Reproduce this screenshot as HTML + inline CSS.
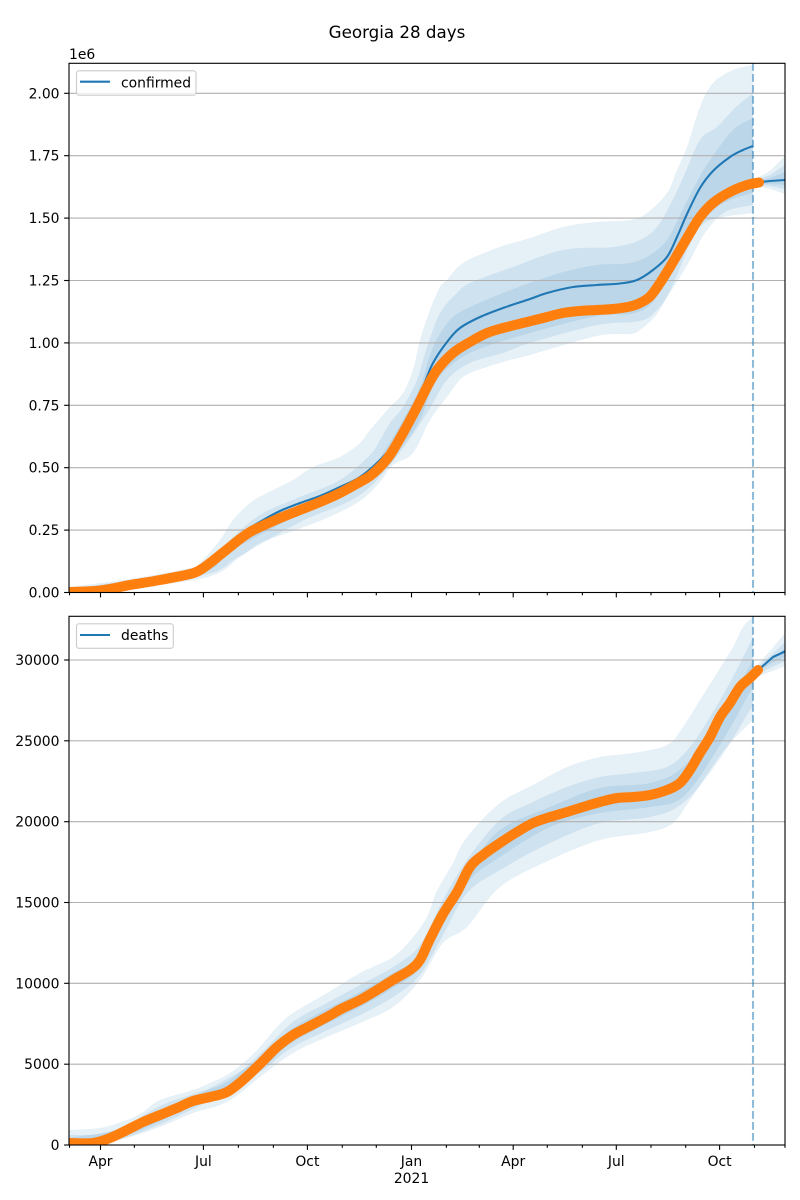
<!DOCTYPE html>
<html>
<head>
<meta charset="utf-8">
<style>
  html, body { margin: 0; padding: 0; background: #ffffff; }
  svg { display: block; }
  text { font-family: "DejaVu Sans", "Liberation Sans", sans-serif; fill: #000; }
</style>
</head>
<body>
<svg id="fig" width="800" height="1200" viewBox="0 0 800 1200" xmlns="http://www.w3.org/2000/svg">
  <defs>
    <clipPath id="c1"><rect x="69" y="63.3" width="716" height="529.2"/></clipPath>
    <clipPath id="c2"><rect x="69" y="616.3" width="716" height="528.7"/></clipPath>
  </defs>
  <rect width="800" height="1200" fill="#fff"/>

  <text x="397" y="38" font-size="16.7" text-anchor="middle">Georgia 28 days</text>

  <!-- ================= TOP AXES ================= -->
  <g clip-path="url(#c1)">
    <g fill="#1f77b4" fill-opacity="0.11" stroke="none">
      <polygon class="sm" points="69,587 130,579 190,568 200,563 220,540 233,520 250,503 267,493 293,480 313,467 340,457 360,443 370,430 390,407 403,393 413,370 420,340 430,310 440,287 447,280 463,263 497,248 530,238 563,227 597,222 630,220 647,213 667,193 677,170 687,147 700,107 713,83 733,70 753,65 753,213 723,217 703,224 690,244 680,268 670,291 657,314 640,330 630,334 597,336 530,355 510,360 487,367 463,377 447,397 430,420 413,453 393,465 380,482 360,501 327,518 293,531 260,543 240,557 200,579 69,593"/>
      <polygon class="sm" points="69,589 190,571 210,560 230,540 260,515 300,497 340,480 370,455 380,440 390,423 403,407 417,380 427,347 440,313 457,293 470,283 513,267 563,250 613,247 640,240 657,227 670,205 683,178 700,140 717,127 735,108 753,93 753,205 725,212 705,233 690,260 675,285 657,310 640,321 597,325 530,343 503,353 470,363 447,380 427,413 400,452 360,495 300,522 240,556 200,576 69,593"/>
      <polygon class="sm" points="69,590 200,568 230,544 260,522 300,505 340,490 370,472 385,450 403,420 420,387 433,347 450,320 470,307 503,293 530,283 563,272 597,265 630,263 650,255 667,240 680,215 690,195 700,176 710,160 733,130 753,118 753,193 730,200 710,213 690,241 670,276 650,305 630,314 597,316 530,333 470,353 437,380 420,420 403,445 380,472 300,514 230,551 200,573 69,593"/>
      <polygon points="755,179 770,171 785,156 785,194 770,189 755,186"/>
      <polygon points="755,180 770,175 785,165 785,189 770,186 755,185"/>
      <polygon points="755,181 770,178 785,172 785,185 770,184 755,184"/>
    </g>
    <g stroke="#b0b0b0" stroke-width="1.1">
      <line x1="69" x2="785" y1="592.5" y2="592.5"/>
      <line x1="69" x2="785" y1="530.1" y2="530.1"/>
      <line x1="69" x2="785" y1="467.7" y2="467.7"/>
      <line x1="69" x2="785" y1="405.3" y2="405.3"/>
      <line x1="69" x2="785" y1="342.9" y2="342.9"/>
      <line x1="69" x2="785" y1="280.5" y2="280.5"/>
      <line x1="69" x2="785" y1="218.1" y2="218.1"/>
      <line x1="69" x2="785" y1="155.7" y2="155.7"/>
      <line x1="69" x2="785" y1="93.3" y2="93.3"/>
    </g>
    <polyline class="sm" fill="none" stroke="#1f77b4" stroke-width="2.08" stroke-linejoin="round"
      points="69,592 200,569 220,553 240,537 250,528 265,519 280,511 300,503 320,496 340,487 360,477 380,460 397,440 413,410 423,387 433,363 447,342 460,328 480,317 503,308 530,299 547,293 573,287 597,285 620,283.5 637,280 653,270 667,257 677,237 687,214 700,188 713,171 730,157 743,150 753,146"/>
    <polyline fill="none" stroke="#1f77b4" stroke-width="2.08" points="758,182.3 770,181 785,180"/>
    <line x1="753" x2="753" y1="63" y2="593" stroke="#1f77b4" stroke-opacity="0.5" stroke-width="2.08" stroke-dasharray="7.7,3.3"/>
    <polyline class="sm" fill="none" stroke="#ff7f0e" stroke-width="10" stroke-linejoin="round" stroke-linecap="round"
      points="69,592 95,591 110,589 130,585 160,580 190,574 200,570 210,563 220,555 230,547 240,539 250,532 260,527 280,518 300,510 320,502 340,493 360,482 370,476 380,467 390,455 403,433 417,407 427,387 437,370 453,353 470,342 487,333 503,328 527,322 547,317 563,313 580,311 597,310 613,309 630,306.5 640,303 650,296.5 660,283 670,267 680,250 690,233 700,217 713,203 730,192 747,185 759,182.5"/>
  </g>
  <rect x="69" y="63.3" width="716" height="529.2" fill="none" stroke="#000" stroke-width="1.1"/>
  <g stroke="#000" stroke-width="1.1">
    <line x1="64.1" x2="69" y1="592.5" y2="592.5"/>
    <line x1="64.1" x2="69" y1="530.1" y2="530.1"/>
    <line x1="64.1" x2="69" y1="467.7" y2="467.7"/>
    <line x1="64.1" x2="69" y1="405.3" y2="405.3"/>
    <line x1="64.1" x2="69" y1="342.9" y2="342.9"/>
    <line x1="64.1" x2="69" y1="280.5" y2="280.5"/>
    <line x1="64.1" x2="69" y1="218.1" y2="218.1"/>
    <line x1="64.1" x2="69" y1="155.7" y2="155.7"/>
    <line x1="64.1" x2="69" y1="93.3" y2="93.3"/>
  </g>
  <g font-size="13.9" text-anchor="end">
    <text x="59.5" y="597.5">0.00</text>
    <text x="59.5" y="535.1">0.25</text>
    <text x="59.5" y="472.7">0.50</text>
    <text x="59.5" y="410.3">0.75</text>
    <text x="59.5" y="347.9">1.00</text>
    <text x="59.5" y="285.5">1.25</text>
    <text x="59.5" y="223.1">1.50</text>
    <text x="59.5" y="160.7">1.75</text>
    <text x="59.5" y="98.3">2.00</text>
  </g>
  <text x="69" y="59" font-size="13.9">1e6</text>
  <g stroke="#000" stroke-width="1.1">
    <line x1="100.5" x2="100.5" y1="592.5" y2="597.4"/>
    <line x1="203.4" x2="203.4" y1="592.5" y2="597.4"/>
    <line x1="307.4" x2="307.4" y1="592.5" y2="597.4"/>
    <line x1="411.5" x2="411.5" y1="592.5" y2="597.4"/>
    <line x1="513.2" x2="513.2" y1="592.5" y2="597.4"/>
    <line x1="616.3" x2="616.3" y1="592.5" y2="597.4"/>
    <line x1="719.6" x2="719.6" y1="592.5" y2="597.4"/>
    <line x1="69.5" x2="69.5" y1="592.5" y2="595.3"/>
    <line x1="134.4" x2="134.4" y1="592.5" y2="595.3"/>
    <line x1="169.4" x2="169.4" y1="592.5" y2="595.3"/>
    <line x1="238.4" x2="238.4" y1="592.5" y2="595.3"/>
    <line x1="273.4" x2="273.4" y1="592.5" y2="595.3"/>
    <line x1="342.3" x2="342.3" y1="592.5" y2="595.3"/>
    <line x1="376.3" x2="376.3" y1="592.5" y2="595.3"/>
    <line x1="446.4" x2="446.4" y1="592.5" y2="595.3"/>
    <line x1="479.3" x2="479.3" y1="592.5" y2="595.3"/>
    <line x1="547.3" x2="547.3" y1="592.5" y2="595.3"/>
    <line x1="582.4" x2="582.4" y1="592.5" y2="595.3"/>
    <line x1="651.0" x2="651.0" y1="592.5" y2="595.3"/>
    <line x1="685.7" x2="685.7" y1="592.5" y2="595.3"/>
    <line x1="754.5" x2="754.5" y1="592.5" y2="595.3"/>
    <line x1="785" x2="785" y1="592.5" y2="595.3"/>
  </g>
  <rect x="76.5" y="70.8" width="119.5" height="24.4" rx="2.5" ry="2.5" fill="#fff" fill-opacity="0.8" stroke="#cccccc" stroke-width="1.1"/>
  <line x1="80" x2="110" y1="81.7" y2="81.7" stroke="#1f77b4" stroke-width="2.08"/>
  <text x="121" y="87.3" font-size="13.9">confirmed</text>

  <!-- ================= BOTTOM AXES ================= -->
  <g clip-path="url(#c2)">
    <g fill="#1f77b4" fill-opacity="0.11" stroke="none">
      <polygon class="sm" points="69,1130 100,1128 127,1120 143,1112 160,1100 193,1090 210,1083 227,1075 243,1063 260,1047 277,1027 293,1013 327,993 360,973 393,957 413,937 427,917 435,895 443,880 453,863 467,837 500,803 533,785 567,767 600,757 633,753 667,745 683,727 700,700 717,673 733,647 743,627 753,617 753,720 733,740 717,760 690,800 673,823 650,832 600,840 550,860 500,887 467,927 443,943 420,980 393,1007 360,1023 327,1037 293,1053 260,1077 227,1102 193,1113 160,1127 127,1138 93,1146 69,1146"/>
      <polygon class="sm" points="69,1135 100,1134 127,1125 160,1106 193,1094 227,1082 260,1054 293,1022 327,1003 360,985 393,967 420,945 443,900 467,860 500,820 533,802 567,787 600,777 633,773 667,767 690,747 710,717 733,677 753,637 753,705 717,763 683,803 650,817 600,823 550,843 500,870 467,893 443,935 420,975 393,997 360,1015 293,1047 260,1072 193,1109 127,1137 69,1146"/>
      <polygon class="sm" points="69,1138 127,1127 193,1097 260,1059 293,1028 360,992 393,973 420,955 443,910 470,867 500,830 550,807 600,788 650,783 683,767 717,723 753,660 753,687 717,750 683,797 650,807 600,813 550,827 500,857 470,880 443,925 420,968 393,988 360,1007 293,1042 260,1069 193,1105 127,1135 69,1146"/>
      <polygon points="756,666 770,651 785,633 785,666 770,672 756,677"/>
      <polygon points="756,668 770,656 785,642 785,661 770,668 756,675"/>
      <polygon points="756,669 770,660 785,648 785,657 770,664 756,673"/>
    </g>
    <g stroke="#b0b0b0" stroke-width="1.1">
      <line x1="69" x2="785" y1="1145" y2="1145"/>
      <line x1="69" x2="785" y1="1064.2" y2="1064.2"/>
      <line x1="69" x2="785" y1="983.3" y2="983.3"/>
      <line x1="69" x2="785" y1="902.5" y2="902.5"/>
      <line x1="69" x2="785" y1="821.7" y2="821.7"/>
      <line x1="69" x2="785" y1="740.8" y2="740.8"/>
      <line x1="69" x2="785" y1="660" y2="660"/>
    </g>
    <polyline class="sm" fill="none" stroke="#1f77b4" stroke-width="2.08" stroke-linejoin="round"
      points="69,1143 93,1143 110,1138 127,1130 143,1122 160,1115 177,1108 193,1101 210,1097 227,1092 243,1080 260,1064 277,1047 293,1035 310,1026 327,1017 343,1008 360,1000 377,990 393,980 410,968 420,956 430,937 443,912 457,890 470,866 483,854 500,842 517,831 533,822 550,816 567,811 583,806 600,801 617,797 633,796 650,794 667,789 680,782 690,769 700,752 710,736 720,716 730,702 740,686 750,677 758,670"/>
    <polyline fill="none" stroke="#1f77b4" stroke-width="2.08" stroke-linejoin="round" points="758,670 762,666.7 773,657 785,651.5"/>
    <line x1="753" x2="753" y1="616" y2="1145" stroke="#1f77b4" stroke-opacity="0.5" stroke-width="2.08" stroke-dasharray="7.7,3.3"/>
    <polyline class="sm" fill="none" stroke="#ff7f0e" stroke-width="10" stroke-linejoin="round" stroke-linecap="round"
      points="69,1143 93,1143 110,1138 127,1130 143,1122 160,1115 177,1108 193,1101 210,1097 227,1092 243,1080 260,1064 277,1047 293,1035 310,1026 327,1017 343,1008 360,1000 377,990 393,980 410,970 420,960 430,939 443,914 457,892 470,867 483,855 500,843 517,832 533,823 550,817 567,812 583,807 600,802 617,798 633,797 650,795 667,790 680,783 690,770 700,753 710,737 720,717 730,703 740,687 750,678 758,670"/>
  </g>
  <rect x="69" y="616.3" width="716" height="528.7" fill="none" stroke="#000" stroke-width="1.1"/>
  <g stroke="#000" stroke-width="1.1">
    <line x1="64.1" x2="69" y1="1145" y2="1145"/>
    <line x1="64.1" x2="69" y1="1064.2" y2="1064.2"/>
    <line x1="64.1" x2="69" y1="983.3" y2="983.3"/>
    <line x1="64.1" x2="69" y1="902.5" y2="902.5"/>
    <line x1="64.1" x2="69" y1="821.7" y2="821.7"/>
    <line x1="64.1" x2="69" y1="740.8" y2="740.8"/>
    <line x1="64.1" x2="69" y1="660" y2="660"/>
  </g>
  <g font-size="13.9" text-anchor="end">
    <text x="59.5" y="1150">0</text>
    <text x="59.5" y="1069.2">5000</text>
    <text x="59.5" y="988.3">10000</text>
    <text x="59.5" y="907.5">15000</text>
    <text x="59.5" y="826.7">20000</text>
    <text x="59.5" y="745.8">25000</text>
    <text x="59.5" y="665">30000</text>
  </g>
  <g stroke="#000" stroke-width="1.1">
    <line x1="100.5" x2="100.5" y1="1145" y2="1149.9"/>
    <line x1="203.4" x2="203.4" y1="1145" y2="1149.9"/>
    <line x1="307.4" x2="307.4" y1="1145" y2="1149.9"/>
    <line x1="411.5" x2="411.5" y1="1145" y2="1149.9"/>
    <line x1="513.2" x2="513.2" y1="1145" y2="1149.9"/>
    <line x1="616.3" x2="616.3" y1="1145" y2="1149.9"/>
    <line x1="719.6" x2="719.6" y1="1145" y2="1149.9"/>
    <line x1="69.5" x2="69.5" y1="1145" y2="1147.8"/>
    <line x1="134.4" x2="134.4" y1="1145" y2="1147.8"/>
    <line x1="169.4" x2="169.4" y1="1145" y2="1147.8"/>
    <line x1="238.4" x2="238.4" y1="1145" y2="1147.8"/>
    <line x1="273.4" x2="273.4" y1="1145" y2="1147.8"/>
    <line x1="342.3" x2="342.3" y1="1145" y2="1147.8"/>
    <line x1="376.3" x2="376.3" y1="1145" y2="1147.8"/>
    <line x1="446.4" x2="446.4" y1="1145" y2="1147.8"/>
    <line x1="479.3" x2="479.3" y1="1145" y2="1147.8"/>
    <line x1="547.3" x2="547.3" y1="1145" y2="1147.8"/>
    <line x1="582.4" x2="582.4" y1="1145" y2="1147.8"/>
    <line x1="651.0" x2="651.0" y1="1145" y2="1147.8"/>
    <line x1="685.7" x2="685.7" y1="1145" y2="1147.8"/>
    <line x1="754.5" x2="754.5" y1="1145" y2="1147.8"/>
    <line x1="785" x2="785" y1="1145" y2="1147.8"/>
  </g>
  <g font-size="13.9" text-anchor="middle">
    <text x="100.5" y="1166">Apr</text>
    <text x="203.4" y="1166">Jul</text>
    <text x="307.4" y="1166">Oct</text>
    <text x="411.5" y="1166">Jan</text>
    <text x="411.5" y="1183">2021</text>
    <text x="513.2" y="1166">Apr</text>
    <text x="616.3" y="1166">Jul</text>
    <text x="719.6" y="1166">Oct</text>
  </g>
  <rect x="76.5" y="623.8" width="96.8" height="24.5" rx="2.5" ry="2.5" fill="#fff" fill-opacity="0.8" stroke="#cccccc" stroke-width="1.1"/>
  <line x1="80" x2="110" y1="635" y2="635" stroke="#1f77b4" stroke-width="2.08"/>
  <text x="121" y="640" font-size="13.9">deaths</text>
</svg>
<script>
(function(){
  try {
    var NS = "http://www.w3.org/2000/svg";
    function seg(pts){
      var d = "";
      for (var i = 0; i < pts.length - 1; i++) {
        var p0 = pts[Math.max(i-1,0)], p1 = pts[i], p2 = pts[i+1], p3 = pts[Math.min(i+2, pts.length-1)];
        var c1x = p1[0] + (p2[0]-p0[0])/6, c1y = p1[1] + (p2[1]-p0[1])/6;
        var c2x = p2[0] - (p3[0]-p1[0])/6, c2y = p2[1] - (p3[1]-p1[1])/6;
        d += " C" + c1x.toFixed(2) + "," + c1y.toFixed(2) + " " + c2x.toFixed(2) + "," + c2y.toFixed(2) + " " + p2[0] + "," + p2[1];
      }
      return d;
    }
    var els = document.querySelectorAll(".sm");
    for (var k = 0; k < els.length; k++) {
      var el = els[k];
      var pts = el.getAttribute("points").trim().split(/\s+/).map(function(s){ return s.split(",").map(Number); });
      var runs = [[pts[0]]];
      for (var i = 1; i < pts.length; i++) {
        if (Math.abs(pts[i][0] - pts[i-1][0]) < 0.5) runs.push([pts[i]]);
        else runs[runs.length-1].push(pts[i]);
      }
      var d = "M" + pts[0][0] + "," + pts[0][1];
      for (var r = 0; r < runs.length; r++) {
        if (r > 0) d += " L" + runs[r][0][0] + "," + runs[r][0][1];
        d += seg(runs[r]);
      }
      if (el.tagName.toLowerCase() === "polygon") d += " Z";
      var p = document.createElementNS(NS, "path");
      for (var a = 0; a < el.attributes.length; a++) {
        var at = el.attributes[a];
        if (at.name !== "points" && at.name !== "class") p.setAttribute(at.name, at.value);
      }
      p.setAttribute("d", d);
      el.parentNode.replaceChild(p, el);
    }
  } catch (e) {}
})();
</script>
</body>
</html>
